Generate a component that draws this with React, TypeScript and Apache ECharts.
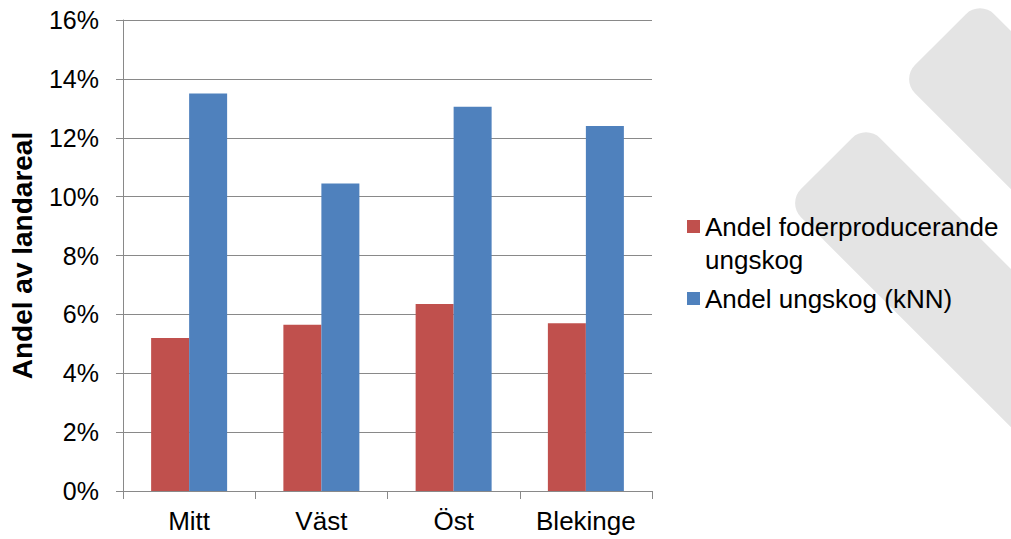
import React, { useEffect, useRef } from "react";
import * as echarts from "echarts";

const categories = ["Mitt", "Väst", "Öst", "Blekinge"];
const foderValues = [5.2, 5.65, 6.35, 5.7];
const knnValues = [13.5, 10.45, 13.05, 12.4];
const yTicks = { min: 0, max: 16, interval: 2 };
const seriesNames = ["Andel foderproducerande ungskog", "Andel ungskog (kNN)"];

const FONT = "'Liberation Sans', Arial, sans-serif";

export default function App() {
  const ref = useRef<HTMLDivElement>(null);
  useEffect(() => {
    if (!ref.current) return;
    const chart = echarts.init(ref.current, undefined, { renderer: "svg" });
    const band = (x: number, y: number) => ({
      type: "rect",
      x,
      y,
      rotation: -Math.PI / 4,
      z: -10,
      silent: true,
      shape: { x: 0, y: 0, width: 700, height: 112, r: 20 },
      style: { fill: "#e4e4e4" },
    });
    chart.setOption({
      animation: false,
      backgroundColor: "#ffffff",
      textStyle: { fontFamily: FONT },
      graphic: [band(980, 0), band(866, 124)],
      grid: { left: 119.5, right: 359, top: 20, bottom: 48, containLabel: false },
      legend: {
        orient: "vertical",
        left: 682,
        top: 172,
        itemWidth: 13,
        itemHeight: 13,
        itemGap: 6,
        icon: "rect",
        selectedMode: false,
        textStyle: { fontFamily: FONT, fontSize: 26, color: "#000", lineHeight: 33 },
        formatter: (name: string) =>
          name === seriesNames[0] ? "\nAndel foderproducerande\nungskog" : name,
        data: [seriesNames[0], seriesNames[1]],
      },
      xAxis: {
        type: "category",
        data: categories,
        axisLine: { lineStyle: { color: "#898989", width: 1 } },
        axisTick: { show: true, length: 8, lineStyle: { color: "#898989" } },
        axisLabel: { fontSize: 26, color: "#000", margin: 17, fontFamily: FONT },
      },
      yAxis: {
        type: "value",
        min: yTicks.min,
        max: yTicks.max,
        interval: yTicks.interval,
        name: "Andel av landareal",
        nameLocation: "middle",
        nameGap: 87,
        nameTextStyle: { fontSize: 28, fontWeight: "bold", color: "#000", fontFamily: FONT },
        axisLine: { show: true, lineStyle: { color: "#898989", width: 1 } },
        axisTick: { show: true, length: 7, lineStyle: { color: "#898989" } },
        splitLine: { show: true, lineStyle: { color: "#898989", width: 1 } },
        axisLabel: { fontSize: 25, color: "#000", margin: 24, formatter: "{value}%", fontFamily: FONT },
      },
      series: [
        {
          name: seriesNames[0],
          type: "bar",
          data: foderValues,
          barWidth: 38,
          barGap: "0%",
          itemStyle: { color: "#c0504d" },
        },
        {
          name: seriesNames[1],
          type: "bar",
          data: knnValues,
          barWidth: 38,
          barGap: "0%",
          itemStyle: { color: "#4f81bd" },
        },
      ],
    });
    return () => chart.dispose();
  }, []);
  return <div ref={ref} style={{ width: 1011, height: 539, position: "absolute", left: 0, top: 0 }} />;
}
